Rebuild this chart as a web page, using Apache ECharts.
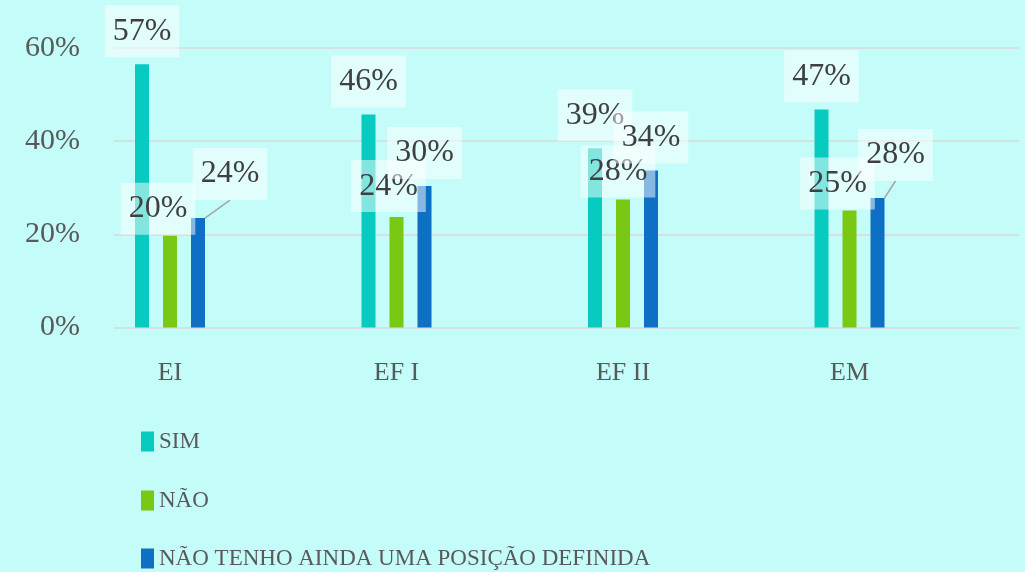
<!DOCTYPE html>
<html>
<head>
<meta charset="utf-8">
<script src="https://cdn.jsdelivr.net/npm/echarts@6/dist/echarts.min.js"></script>
<style>
html,body{margin:0;padding:0;background:#c3fcf8;}
#chart{width:1025px;height:572px;}
</style>
</head>
<body>
<div id="chart"></div>
<script>
// ---- data ----
const categories = ['EI', 'EF I', 'EF II', 'EM'];
const seriesNames = ['SIM', 'NÃO', 'NÃO TENHO AINDA UMA POSIÇÃO DEFINIDA'];
const simValues = [56.5, 45.7, 38.5, 46.8];
const naoValues = [19.7, 23.7, 27.5, 25.1];
const indefValues = [23.5, 30.4, 33.7, 27.8];
const yTicks = { min: 0, max: 60, interval: 20 };

// ---- styling ----
const colors = ['#07cbc1', '#78c814', '#0e70c4'];
const labelShift = [
  [[0, 0], [0, 0], [0, 0], [0, 0]],
  [[-12, 6], [-8, 2], [-5, 5], [-12, 6]],
  [[32, -11], [0, 0], [0, 0], [18, -10]]
];
const leaderLines = [
  [false, false, false, false],
  [false, false, false, false],
  [true, false, false, true]
];
const legendTops = [430, 489, 547];
const FONT = "'Liberation Serif', 'Times New Roman', serif";

const allValues = [simValues, naoValues, indefValues];

const chart = echarts.init(document.getElementById('chart'), null, { renderer: 'canvas' });

const series = seriesNames.map((name, si) => ({
  name: name,
  type: 'bar',
  xAxisIndex: 1,
  yAxisIndex: 1,
  barWidth: 14,
  barGap: '100%',
  itemStyle: { color: colors[si] },
  label: {
    show: true,
    position: 'top',
    distance: 7,
    formatter: p => Math.round(p.value) + '%',
    fontFamily: FONT,
    fontSize: 32,
    lineHeight: 32,
    color: '#404040',
    backgroundColor: 'rgba(255,255,255,0.5)',
    padding: [10, 8]
  },
  labelLine: { show: false },
  labelLayout: function (params) {
    const s = labelShift[si][params.dataIndex];
    return { dx: s[0], dy: s[1] };
  },
  data: allValues[si].map((v, i) => leaderLines[si][i]
    ? { value: v, labelLine: { show: true, lineStyle: { color: '#a6a6a6', width: 1.5 } } }
    : { value: v })
}));

const legends = seriesNames.map((name, si) => ({
  orient: 'vertical',
  left: 141,
  top: legendTops[si],
  padding: 0,
  itemWidth: 13,
  itemHeight: 20,
  icon: 'rect',
  textStyle: { fontFamily: FONT, fontSize: 23, lineHeight: 20, color: '#595959' },
  data: [name]
}));

const option = {
  backgroundColor: '#c3fcf8',
  animation: false,
  grid: [
    { left: 114, right: 6, top: 48, bottom: 244.5 },
    { left: 56.75, width: 906, top: 48, bottom: 244.5 }
  ],
  legend: legends,
  xAxis: [
    { gridIndex: 0, type: 'value', show: false, min: 0, max: 1 },
    {
      gridIndex: 1, type: 'category', data: categories,
      axisLine: { show: false }, axisTick: { show: false },
      axisLabel: { fontFamily: FONT, fontSize: 26, color: '#595959', margin: 33 }
    }
  ],
  yAxis: [
    {
      gridIndex: 0, type: 'value', min: yTicks.min, max: yTicks.max, interval: yTicks.interval,
      axisLine: { show: false }, axisTick: { show: false },
      axisLabel: { formatter: '{value}%', fontFamily: FONT, fontSize: 30, color: '#595959', margin: 34 },
      splitLine: { lineStyle: { color: '#d9d9d9', width: 1.5 } }
    },
    {
      gridIndex: 1, type: 'value', min: yTicks.min, max: yTicks.max, interval: yTicks.interval,
      show: false, splitLine: { show: false }
    }
  ],
  series: series
};
chart.setOption(option);
</script>
</body>
</html>
